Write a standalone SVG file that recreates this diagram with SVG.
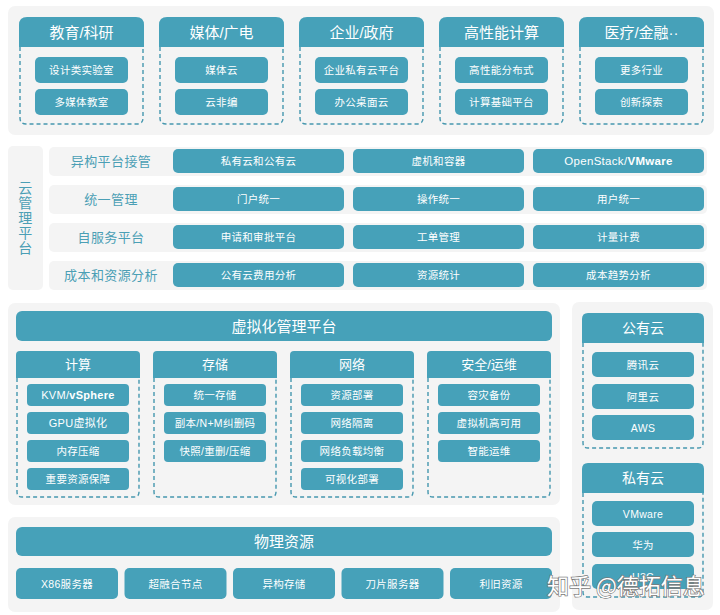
<svg xmlns="http://www.w3.org/2000/svg" width="720" height="615" viewBox="0 0 720 615">
<style>
text{font-family:"Liberation Sans","Noto Sans CJK SC",sans-serif;dominant-baseline:central;text-anchor:middle}
.panel{fill:#f4f4f4}
.fill{fill:#46a1b9}
.dash{fill:none;stroke:#4597ae;stroke-width:1.4;stroke-dasharray:4 3}
.h1{fill:#fff;font-size:15px}
.h2{fill:#fff;font-size:13px}
.it{fill:#fff;font-size:10.5px;letter-spacing:0.3px}
.lbl{fill:#4b9fb5;font-size:13px;letter-spacing:0.4px}
.b{font-weight:bold}
</style>
<rect width="720" height="615" fill="#fff"/>
<g id="connectors"/>
<!-- Top industries -->
<g id="industries">
<rect class="panel" x="8" y="6" width="706" height="129" rx="7"/>
<g id="edu">
<path class="fill" d="M19,47V25Q19,17 27,17H136Q144,17 144,25V47Z"/>
<path class="dash" d="M20,47V118Q20,124 26,124H137Q143,124 143,118V47"/>
<text class="h1" x="81.5" y="32">教育/科研</text>
<rect class="fill" x="35" y="57" width="93" height="26" rx="5"/><text class="it" x="81.5" y="70">设计类实验室</text>
<rect class="fill" x="35" y="89" width="93" height="26" rx="5"/><text class="it" x="81.5" y="102">多媒体教室</text>
</g>
<g id="media">
<path class="fill" d="M159,47V25Q159,17 167,17H276Q284,17 284,25V47Z"/>
<path class="dash" d="M160,47V118Q160,124 166,124H277Q283,124 283,118V47"/>
<text class="h1" x="221.5" y="32">媒体/广电</text>
<rect class="fill" x="175" y="57" width="93" height="26" rx="5"/><text class="it" x="221.5" y="70">媒体云</text>
<rect class="fill" x="175" y="89" width="93" height="26" rx="5"/><text class="it" x="221.5" y="102">云非编</text>
</g>
<g id="gov">
<path class="fill" d="M299,47V25Q299,17 307,17H416Q424,17 424,25V47Z"/>
<path class="dash" d="M300,47V118Q300,124 306,124H417Q423,124 423,118V47"/>
<text class="h1" x="361.5" y="32">企业/政府</text>
<rect class="fill" x="315" y="57" width="93" height="26" rx="5"/><text class="it" x="361.5" y="70">企业私有云平台</text>
<rect class="fill" x="315" y="89" width="93" height="26" rx="5"/><text class="it" x="361.5" y="102">办公桌面云</text>
</g>
<g id="hpc">
<path class="fill" d="M439,47V25Q439,17 447,17H556Q564,17 564,25V47Z"/>
<path class="dash" d="M440,47V118Q440,124 446,124H557Q563,124 563,118V47"/>
<text class="h1" x="501.5" y="32">高性能计算</text>
<rect class="fill" x="455" y="57" width="93" height="26" rx="5"/><text class="it" x="501.5" y="70">高性能分布式</text>
<rect class="fill" x="455" y="89" width="93" height="26" rx="5"/><text class="it" x="501.5" y="102">计算基础平台</text>
</g>
<g id="medical">
<path class="fill" d="M579,47V25Q579,17 587,17H696Q704,17 704,25V47Z"/>
<path class="dash" d="M580,47V118Q580,124 586,124H697Q703,124 703,118V47"/>
<text class="h1" x="641.5" y="32">医疗/金融··</text>
<rect class="fill" x="595" y="57" width="93" height="26" rx="5"/><text class="it" x="641.5" y="70">更多行业</text>
<rect class="fill" x="595" y="89" width="93" height="26" rx="5"/><text class="it" x="641.5" y="102">创新探索</text>
</g>
</g>
<!-- Cloud management -->
<g id="cloud-mgmt">
<rect class="panel" x="8" y="146" width="35" height="144" rx="5"/>
<text class="lbl" style="font-size:14px" x="25.5" y="188">云</text>
<text class="lbl" style="font-size:14px" x="25.5" y="203">管</text>
<text class="lbl" style="font-size:14px" x="25.5" y="218">理</text>
<text class="lbl" style="font-size:14px" x="25.5" y="233">平</text>
<text class="lbl" style="font-size:14px" x="25.5" y="248">台</text>
<g id="row1">
<rect class="panel" x="49" y="147" width="658" height="29" rx="5"/>
<text class="lbl" x="111" y="161.5">异构平台接管</text>
<rect class="fill" x="173" y="149" width="171" height="24" rx="5"/><text class="it" x="258.5" y="161">私有云和公有云</text>
<rect class="fill" x="353" y="149" width="171" height="24" rx="5"/><text class="it" x="438.5" y="161">虚机和容器</text>
<rect class="fill" x="533" y="149" width="171" height="24" rx="5"/><text class="it" style="font-size:11.5px" x="618.5" y="161">OpenStack/<tspan class="b">VMware</tspan></text>
</g>
<g id="row2">
<rect class="panel" x="49" y="185" width="658" height="29" rx="5"/>
<text class="lbl" x="111" y="199.5">统一管理</text>
<rect class="fill" x="173" y="187" width="171" height="24" rx="5"/><text class="it" x="258.5" y="199">门户统一</text>
<rect class="fill" x="353" y="187" width="171" height="24" rx="5"/><text class="it" x="438.5" y="199">操作统一</text>
<rect class="fill" x="533" y="187" width="171" height="24" rx="5"/><text class="it" x="618.5" y="199">用户统一</text>
</g>
<g id="row3">
<rect class="panel" x="49" y="223" width="658" height="29" rx="5"/>
<text class="lbl" x="111" y="237.5">自服务平台</text>
<rect class="fill" x="173" y="225" width="171" height="24" rx="5"/><text class="it" x="258.5" y="237">申请和审批平台</text>
<rect class="fill" x="353" y="225" width="171" height="24" rx="5"/><text class="it" x="438.5" y="237">工单管理</text>
<rect class="fill" x="533" y="225" width="171" height="24" rx="5"/><text class="it" x="618.5" y="237">计量计费</text>
</g>
<g id="row4">
<rect class="panel" x="49" y="261" width="658" height="29" rx="5"/>
<text class="lbl" x="111" y="275.5">成本和资源分析</text>
<rect class="fill" x="173" y="263" width="171" height="24" rx="5"/><text class="it" x="258.5" y="275">公有云费用分析</text>
<rect class="fill" x="353" y="263" width="171" height="24" rx="5"/><text class="it" x="438.5" y="275">资源统计</text>
<rect class="fill" x="533" y="263" width="171" height="24" rx="5"/><text class="it" x="618.5" y="275">成本趋势分析</text>
</g>
</g>
<!-- Virtualization -->
<g id="virtualization">
<rect class="panel" x="8" y="303" width="552" height="202" rx="7"/>
<rect class="fill" x="16" y="311" width="536" height="30" rx="6"/>
<text class="h1" x="284" y="326">虚拟化管理平台</text>
<g id="compute">
<path class="fill" d="M16,378V355Q16,351 20,351H136Q140,351 140,355V378Z"/>
<path class="dash" d="M17,378V492Q17,497 22,497H134Q139,497 139,492V378"/>
<text class="h2" x="78" y="364.5">计算</text>
<rect class="fill" x="27" y="384" width="102" height="22" rx="4"/><text class="it" style="font-size:11px" x="78" y="395">KVM/<tspan class="b">vSphere</tspan></text>
<rect class="fill" x="27" y="412" width="102" height="22" rx="4"/><text class="it" style="font-size:11px" x="78" y="423">GPU虚拟化</text>
<rect class="fill" x="27" y="440" width="102" height="22" rx="4"/><text class="it" x="78" y="451">内存压缩</text>
<rect class="fill" x="27" y="468" width="102" height="22" rx="4"/><text class="it" x="78" y="479">重要资源保障</text>
</g>
<g id="storage">
<path class="fill" d="M153,378V355Q153,351 157,351H273Q277,351 277,355V378Z"/>
<path class="dash" d="M154,378V492Q154,497 159,497H271Q276,497 276,492V378"/>
<text class="h2" x="215" y="364.5">存储</text>
<rect class="fill" x="164" y="384" width="102" height="22" rx="4"/><text class="it" x="215" y="395">统一存储</text>
<rect class="fill" x="164" y="412" width="102" height="22" rx="4"/><text class="it" x="215" y="423">副本/N+M纠删码</text>
<rect class="fill" x="164" y="440" width="102" height="22" rx="4"/><text class="it" x="215" y="451">快照/重删/压缩</text>
</g>
<g id="network">
<path class="fill" d="M290,378V355Q290,351 294,351H410Q414,351 414,355V378Z"/>
<path class="dash" d="M291,378V492Q291,497 296,497H408Q413,497 413,492V378"/>
<text class="h2" x="352" y="364.5">网络</text>
<rect class="fill" x="301" y="384" width="102" height="22" rx="4"/><text class="it" x="352" y="395">资源部署</text>
<rect class="fill" x="301" y="412" width="102" height="22" rx="4"/><text class="it" x="352" y="423">网络隔离</text>
<rect class="fill" x="301" y="440" width="102" height="22" rx="4"/><text class="it" x="352" y="451">网络负载均衡</text>
<rect class="fill" x="301" y="468" width="102" height="22" rx="4"/><text class="it" x="352" y="479">可视化部署</text>
</g>
<g id="security">
<path class="fill" d="M427,378V355Q427,351 431,351H547Q551,351 551,355V378Z"/>
<path class="dash" d="M428,378V492Q428,497 433,497H545Q550,497 550,492V378"/>
<text class="h2" x="489" y="364.5">安全/运维</text>
<rect class="fill" x="438" y="384" width="102" height="22" rx="4"/><text class="it" x="489" y="395">容灾备份</text>
<rect class="fill" x="438" y="412" width="102" height="22" rx="4"/><text class="it" x="489" y="423">虚拟机高可用</text>
<rect class="fill" x="438" y="440" width="102" height="22" rx="4"/><text class="it" x="489" y="451">智能运维</text>
</g>
</g>
<!-- Right column -->
<g id="clouds">
<rect class="panel" x="572" y="302" width="141" height="308" rx="7"/>
<g id="public-cloud">
<path class="fill" d="M582,343V319Q582,313 588,313H698Q704,313 704,319V343Z"/>
<path class="dash" d="M583,343V443Q583,448 588,448H698Q703,448 703,443V343"/>
<text class="h1" style="font-size:14px" x="643" y="328">公有云</text>
<rect class="fill" x="592" y="352" width="102" height="25" rx="5"/><text class="it" x="643" y="364.5">腾讯云</text>
<rect class="fill" x="592" y="384" width="102" height="25" rx="5"/><text class="it" x="643" y="396.5">阿里云</text>
<rect class="fill" x="592" y="415" width="102" height="25" rx="5"/><text class="it" x="643" y="427.5">AWS</text>
</g>
<g id="private-cloud">
<path class="fill" d="M582,493V469Q582,463 588,463H698Q704,463 704,469V493Z"/>
<path class="dash" d="M583,493V592Q583,597 588,597H698Q703,597 703,592V493"/>
<text class="h1" style="font-size:14px" x="643" y="478">私有云</text>
<rect class="fill" x="592" y="501" width="102" height="25" rx="5"/><text class="it" x="643" y="513.5">VMware</text>
<rect class="fill" x="592" y="532" width="102" height="25" rx="5"/><text class="it" x="643" y="544.5">华为</text>
<rect class="fill" x="592" y="564" width="102" height="25" rx="5"/><text class="it" x="643" y="576.5">H3C</text>
</g>
</g>
<!-- Physical -->
<g id="physical">
<rect class="panel" x="8" y="517" width="552" height="95" rx="7"/>
<rect class="fill" x="16" y="527" width="536" height="29" rx="6"/>
<text class="h1" x="284" y="541.5">物理资源</text>
<rect class="fill" x="16" y="568" width="102" height="31" rx="5"/><text class="it" x="67" y="583.5">X86服务器</text>
<rect class="fill" x="124.5" y="568" width="102" height="31" rx="5"/><text class="it" x="175.5" y="583.5">超融合节点</text>
<rect class="fill" x="233" y="568" width="102" height="31" rx="5"/><text class="it" x="284" y="583.5">异构存储</text>
<rect class="fill" x="341.5" y="568" width="102" height="31" rx="5"/><text class="it" x="392.5" y="583.5">刀片服务器</text>
<rect class="fill" x="450" y="568" width="102" height="31" rx="5"/><text class="it" x="501" y="583.5">利旧资源</text>
</g>
<g id="watermark">
<text x="547" y="584" style="text-anchor:start;font-size:22px;fill:#fff;stroke:#7a7a7a;stroke-width:1.4px;paint-order:stroke;font-family:'Noto Sans CJK SC',sans-serif">知乎 @德拓信息</text>
</g>
</svg>
